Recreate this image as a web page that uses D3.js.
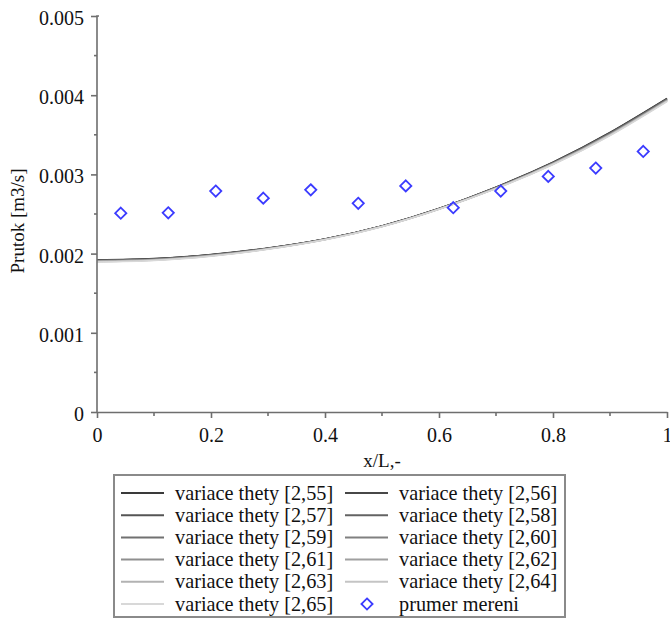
<!DOCTYPE html>
<html>
<head>
<meta charset="utf-8">
<script src="https://cdn.jsdelivr.net/npm/d3@7"></script>
<style>
  html, body { margin: 0; padding: 0; background: #fff; }
  svg { display: block; }
  text { font-family: "Liberation Serif", "Times New Roman", serif; fill: #111; }
</style>
</head>
<body>
<svg id="chart" width="670" height="619"></svg>
<script>
// Position along the channel (x/L)
const xGrid = [0, 0.1, 0.2, 0.3, 0.4, 0.5, 0.6, 0.7, 0.8, 0.9, 1.0];

// Computed flow for each theta variant [m3/s]
const thetaNames = ["2,55", "2,56", "2,57", "2,58", "2,59", "2,60", "2,61", "2,62", "2,63", "2,64", "2,65"];
const theta255 = [0.001920, 0.001937, 0.001988, 0.002070, 0.002185, 0.002350, 0.002570, 0.002840, 0.003155, 0.003530, 0.003960];
const theta256 = [0.001918, 0.001935, 0.001986, 0.002069, 0.002184, 0.002349, 0.002569, 0.002838, 0.003152, 0.003526, 0.003956];
const theta257 = [0.001915, 0.001933, 0.001984, 0.002067, 0.002183, 0.002348, 0.002568, 0.002836, 0.003149, 0.003522, 0.003952];
const theta258 = [0.001913, 0.001930, 0.001982, 0.002066, 0.002182, 0.002347, 0.002567, 0.002834, 0.003146, 0.003518, 0.003948];
const theta259 = [0.001910, 0.001928, 0.001980, 0.002064, 0.002181, 0.002346, 0.002566, 0.002832, 0.003143, 0.003514, 0.003944];
const theta260 = [0.001908, 0.001926, 0.001978, 0.002063, 0.002180, 0.002345, 0.002565, 0.002830, 0.003140, 0.003510, 0.003940];
const theta261 = [0.001905, 0.001923, 0.001976, 0.002061, 0.002179, 0.002344, 0.002564, 0.002828, 0.003137, 0.003506, 0.003936];
const theta262 = [0.001903, 0.001921, 0.001974, 0.002060, 0.002178, 0.002343, 0.002563, 0.002826, 0.003134, 0.003502, 0.003932];
const theta263 = [0.001900, 0.001919, 0.001972, 0.002058, 0.002177, 0.002342, 0.002562, 0.002824, 0.003131, 0.003498, 0.003928];
const theta264 = [0.001898, 0.001916, 0.001970, 0.002057, 0.002176, 0.002341, 0.002561, 0.002822, 0.003128, 0.003494, 0.003924];
const theta265 = [0.001895, 0.001914, 0.001968, 0.002055, 0.002175, 0.002340, 0.002560, 0.002820, 0.003125, 0.003490, 0.003920];
const thetaSeries = [theta255, theta256, theta257, theta258, theta259, theta260,
                     theta261, theta262, theta263, theta264, theta265];
const thetaColors = ["#3a3a3a", "#474747", "#555555", "#636363", "#717171", "#808080",
                     "#8f8f8f", "#a0a0a0", "#b2b2b2", "#c4c4c4", "#d8d8d8"];

// Averaged measurements
const measX = [0.0417, 0.125, 0.2083, 0.2917, 0.375, 0.4583, 0.5417, 0.625, 0.7083, 0.7917, 0.875, 0.9583];
const measQ = [0.002510, 0.002515, 0.002790, 0.002700, 0.002805, 0.002635, 0.002855, 0.002580, 0.002790, 0.002975, 0.003080, 0.003290];

// Axis ticks
const xTickValues = [0, 0.2, 0.4, 0.6, 0.8, 1];
const xTickLabels = ["0", "0.2", "0.4", "0.6", "0.8", "1"];
const xMinorTicks = [0.1, 0.3, 0.5, 0.7, 0.9];
const yTickValues = [0, 0.001, 0.002, 0.003, 0.004, 0.005];
const yTickLabels = ["0", "0.001", "0.002", "0.003", "0.004", "0.005"];
const yMinorTicks = [0.0005, 0.0015, 0.0025, 0.0035, 0.0045];

const svg = d3.select("#chart");
const plotLeft = 97, plotRight = 667, plotTop = 16, plotBottom = 412;
const x = d3.scaleLinear().domain([0, 1]).range([plotLeft, plotRight]);
const y = d3.scaleLinear().domain([0, 0.005]).range([plotBottom, plotTop]);
const axisColor = "#6e6e6e";

// Theta curves
const line = d3.line().x(d => x(d[0])).y(d => y(d[1])).curve(d3.curveNatural);
thetaSeries.forEach((vals, i) => {
  svg.append("path")
    .datum(xGrid.map((xv, j) => [xv, vals[j]]))
    .attr("d", line)
    .attr("fill", "none")
    .attr("stroke", thetaColors[i])
    .attr("stroke-width", 1.5);
});

// Measurement markers
const diamond = d3.symbol().type(d3.symbolDiamond2).size(80);
svg.append("g").selectAll("path")
  .data(measX.map((xv, i) => [xv, measQ[i]]))
  .join("path")
  .attr("d", diamond)
  .attr("transform", d => `translate(${x(d[0])},${y(d[1])})`)
  .attr("fill", "none")
  .attr("stroke", "#3b3bff")
  .attr("stroke-width", 1.8);

// X axis
const xAxis = svg.append("g").attr("transform", `translate(0,${plotBottom})`);
xAxis.call(d3.axisBottom(x).tickValues(xTickValues)
  .tickFormat((d, i) => xTickLabels[i]).tickSize(6).tickPadding(10).tickSizeOuter(0));
xAxis.append("g").selectAll("line").data(xMinorTicks).join("line")
  .attr("x1", d => x(d)).attr("x2", d => x(d)).attr("y1", 0).attr("y2", 4);

// Y axis
const yAxis = svg.append("g").attr("transform", `translate(${plotLeft},0)`);
yAxis.call(d3.axisLeft(y).tickValues(yTickValues)
  .tickFormat((d, i) => yTickLabels[i]).tickSize(6).tickPadding(7).tickSizeOuter(0));
yAxis.append("g").selectAll("line").data(yMinorTicks).join("line")
  .attr("y1", d => y(d)).attr("y2", d => y(d)).attr("x1", 0).attr("x2", -3);

[xAxis, yAxis].forEach(g => {
  g.selectAll("path, line").attr("stroke", axisColor).attr("stroke-width", 1.6);
  g.selectAll("text").attr("font-size", 20).attr("fill", "#111")
    .attr("font-family", '"Liberation Serif", serif');
});
yAxis.selectAll(".tick text").attr("dy", "0.42em");
yAxis.select(".domain").attr("d", `M2,${y(0.005)}H0V${plotBottom}`);

// Axis titles
svg.append("text").attr("x", x(0.5)).attr("y", 467).attr("text-anchor", "middle")
  .attr("font-size", 19).text("x/L,-");
svg.append("text").attr("transform", `translate(24,221) rotate(-90)`)
  .attr("text-anchor", "middle").attr("font-size", 19).text("Prutok [m3/s]");

// Legend
const legX = 114, legY = 475, legW = 451, legH = 142;
svg.append("rect").attr("x", legX).attr("y", legY).attr("width", legW).attr("height", legH)
  .attr("fill", "#fff").attr("stroke", "#8a8a8a").attr("stroke-width", 2);
const legendItems = thetaNames.map((n, i) => ({ label: `variace thety [${n}]`, color: thetaColors[i], type: "line" }));
legendItems.push({ label: "prumer mereni", color: "#3b3bff", type: "marker" });
const rowH = 22.2, colW = 224;
legendItems.forEach((it, i) => {
  const col = i % 2, row = Math.floor(i / 2);
  const cx = legX + 7 + col * colW;
  const cy = legY + 18 + row * rowH;
  if (it.type === "line") {
    svg.append("line").attr("x1", cx).attr("x2", cx + 43).attr("y1", cy).attr("y2", cy)
      .attr("stroke", it.color).attr("stroke-width", 2);
  } else {
    svg.append("path").attr("d", diamond).attr("transform", `translate(${cx + 22},${cy})`)
      .attr("fill", "none").attr("stroke", it.color).attr("stroke-width", 1.8);
  }
  svg.append("text").attr("x", cx + 54).attr("y", cy).attr("dy", "0.33em")
    .attr("font-size", 20.3).text(it.label);
});
</script>
</body>
</html>
